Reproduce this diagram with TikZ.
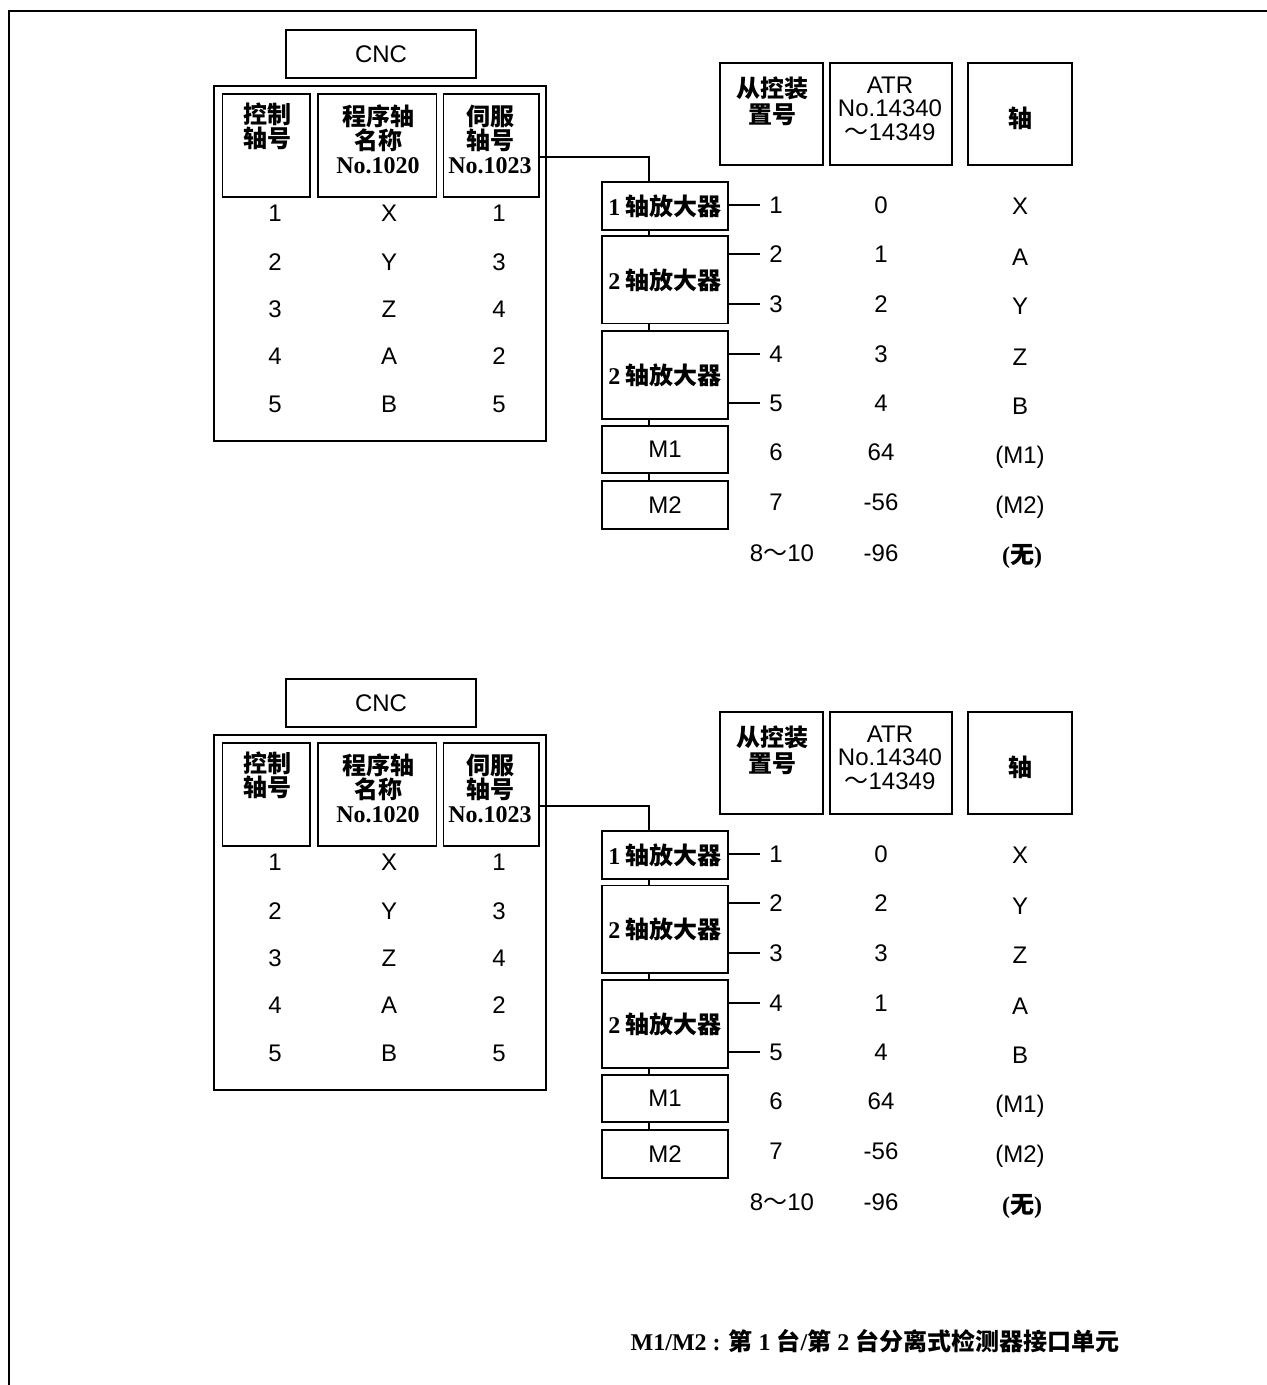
\documentclass[tikz,border=0pt]{standalone}
\usepackage{fontspec}
\setmainfont{Liberation Sans}
\newfontfamily\serifb{Liberation Serif}
\newfontfamily\cjk{Noto Sans CJK SC}

\begin{document}
\begin{tikzpicture}[x=0.5pt,y=-0.5pt,
  box/.style={draw,line width=0.75pt,inner sep=0pt},
  txt/.style={inner sep=0pt,align=center,font=\fontsize{12}{12}\selectfont},
  hd/.style={txt,font=\fontsize{12}{12}\selectfont\cjk\bfseries},
  amp/.style={box,minimum width=63pt,font=\fontsize{12}{12}\selectfont\cjk\bfseries},
  num/.style={txt,minimum width=16pt},
  wire/.style={line width=1pt}]
\useasboundingbox (0,0) rectangle (1267,1385);
\draw[line width=1.3pt] (1267,11) -- (9,11) -- (9,1385);

% upper case
\node[box,minimum width=95pt,minimum height=24pt,font=\fontsize{12}{12}\selectfont] (a-cnc) at (381,54) {CNC};
\node[box,minimum width=166pt,minimum height=177.5pt] (a-tab) at (380,263.5) {};
\node[box,minimum width=43.75pt,minimum height=51.5pt] (a-h1) at (266,145.5) {};
\node[box,minimum width=59.25pt,minimum height=51.5pt] (a-h2) at (377,145.5) {};
\node[box,minimum width=47.75pt,minimum height=51.5pt] (a-h3) at (491.3,145.5) {};
\node[hd] (a-t1) at (267,126.5) {控制\\轴号};
\node[hd] (a-t2) at (378,139) {程序轴\\名称\\{\serifb No.1020}};
\node[hd] (a-t3) at (490,139) {伺服\\轴号\\{\serifb No.1023}};
\node[txt] (a-k1) at (275,213) {1};
\node[txt] (a-k2) at (275,262) {2};
\node[txt] (a-k3) at (275,309) {3};
\node[txt] (a-k4) at (275,356) {4};
\node[txt] (a-k5) at (275,404) {5};
\node[txt] (a-p1) at (389,213) {X};
\node[txt] (a-p2) at (389,262) {Y};
\node[txt] (a-p3) at (389,309) {Z};
\node[txt] (a-p4) at (389,356) {A};
\node[txt] (a-p5) at (389,404) {B};
\node[txt] (a-s1) at (499,213) {1};
\node[txt] (a-s2) at (499,262) {3};
\node[txt] (a-s3) at (499,309) {4};
\node[txt] (a-s4) at (499,356) {2};
\node[txt] (a-s5) at (499,404) {5};
\coordinate (a-bus) at (649,157);
\node[amp,minimum height=24pt] (a-amp1) at (665,206) {{\serifb 1} 轴放大器};
\node[amp,minimum height=43.75pt] (a-amp2) at (665,280) {{\serifb 2} 轴放大器};
\node[amp,minimum height=44pt] (a-amp3) at (665,375) {{\serifb 2} 轴放大器};
\node[amp,minimum height=23.5pt,font=\fontsize{12}{12}\selectfont] (a-m1) at (665,449.5) {M1};
\node[amp,minimum height=24pt,font=\fontsize{12}{12}\selectfont] (a-m2) at (665,505) {M2};
\node[box,minimum width=51.5pt,minimum height=51pt] (a-hd) at (771.5,114) {};
\node[box,minimum width=61pt,minimum height=51pt] (a-ha) at (891,114) {};
\node[box,minimum width=52pt,minimum height=51pt] (a-hx) at (1020,114) {};
\node[hd,font=\fontsize{12}{13}\selectfont\cjk\bfseries] (a-td) at (772,101) {从控装\\置号};
\node[txt,font=\fontsize{12}{11.75}\selectfont] (a-ta) at (890,108.5) {ATR\\No.14340\\{\cjk ～}14349};
\node[hd] (a-tx) at (1020,118) {轴};
\node[num] (a-n1) at (776,205) {1};
\node[num] (a-n2) at (776,254) {2};
\node[num] (a-n3) at (776,304) {3};
\node[num] (a-n4) at (776,354) {4};
\node[num] (a-n5) at (776,403) {5};
\node[num] (a-n6) at (776,452) {6};
\node[num] (a-n7) at (776,502) {7};
\node[txt] (a-n8) at (782,553) {8{\cjk ～}10};
\node[txt] (a-v1) at (881,205) {0};
\node[txt] (a-v2) at (881,254) {1};
\node[txt] (a-v3) at (881,304) {2};
\node[txt] (a-v4) at (881,354) {3};
\node[txt] (a-v5) at (881,403) {4};
\node[txt] (a-v6) at (881,452) {64};
\node[txt] (a-v7) at (881,502) {-56};
\node[txt] (a-v8) at (881,553) {-96};
\node[txt] (a-x1) at (1020,206) {X};
\node[txt] (a-x2) at (1020,257) {A};
\node[txt] (a-x3) at (1020,306) {Y};
\node[txt] (a-x4) at (1020,357) {Z};
\node[txt] (a-x5) at (1020,406) {B};
\node[txt] (a-x6) at (1020,457) {(M1)};
\node[txt] (a-x7) at (1020,507) {(M2)};
\node[txt,font=\fontsize{12}{12}\selectfont\serifb\bfseries] (a-x8) at (1022,557) {({\cjk 无})};
\draw[wire] (a-h3.east |- a-bus) -- (a-bus) -- (a-bus |- a-amp1.north);
\draw[wire] (a-bus |- a-amp1.south) -- (a-bus |- a-amp2.north);
\draw[wire] (a-bus |- a-amp2.south) -- (a-bus |- a-amp3.north);
\draw[wire] (a-bus |- a-amp3.south) -- (a-bus |- a-m1.north);
\draw[wire] (a-bus |- a-m1.south) -- (a-bus |- a-m2.north);
\draw[wire] (a-amp1.east |- a-n1) -- (a-n1.west);
\draw[wire] (a-amp2.east |- a-n2) -- (a-n2.west);
\draw[wire] (a-amp2.east |- a-n3) -- (a-n3.west);
\draw[wire] (a-amp3.east |- a-n4) -- (a-n4.west);
\draw[wire] (a-amp3.east |- a-n5) -- (a-n5.west);

% lower case
\node[box,minimum width=95pt,minimum height=24pt,font=\fontsize{12}{12}\selectfont] (b-cnc) at (381,703) {CNC};
\node[box,minimum width=166pt,minimum height=177.5pt] (b-tab) at (380,912.5) {};
\node[box,minimum width=43.75pt,minimum height=51.5pt] (b-h1) at (266,794.5) {};
\node[box,minimum width=59.25pt,minimum height=51.5pt] (b-h2) at (377,794.5) {};
\node[box,minimum width=47.75pt,minimum height=51.5pt] (b-h3) at (491.3,794.5) {};
\node[hd] (b-t1) at (267,775.5) {控制\\轴号};
\node[hd] (b-t2) at (378,788) {程序轴\\名称\\{\serifb No.1020}};
\node[hd] (b-t3) at (490,788) {伺服\\轴号\\{\serifb No.1023}};
\node[txt] (b-k1) at (275,862) {1};
\node[txt] (b-k2) at (275,911) {2};
\node[txt] (b-k3) at (275,958) {3};
\node[txt] (b-k4) at (275,1005) {4};
\node[txt] (b-k5) at (275,1053) {5};
\node[txt] (b-p1) at (389,862) {X};
\node[txt] (b-p2) at (389,911) {Y};
\node[txt] (b-p3) at (389,958) {Z};
\node[txt] (b-p4) at (389,1005) {A};
\node[txt] (b-p5) at (389,1053) {B};
\node[txt] (b-s1) at (499,862) {1};
\node[txt] (b-s2) at (499,911) {3};
\node[txt] (b-s3) at (499,958) {4};
\node[txt] (b-s4) at (499,1005) {2};
\node[txt] (b-s5) at (499,1053) {5};
\coordinate (b-bus) at (649,806);
\node[amp,minimum height=24pt] (b-amp1) at (665,855) {{\serifb 1} 轴放大器};
\node[amp,minimum height=43.75pt] (b-amp2) at (665,929) {{\serifb 2} 轴放大器};
\node[amp,minimum height=44pt] (b-amp3) at (665,1024) {{\serifb 2} 轴放大器};
\node[amp,minimum height=23.5pt,font=\fontsize{12}{12}\selectfont] (b-m1) at (665,1098.5) {M1};
\node[amp,minimum height=24pt,font=\fontsize{12}{12}\selectfont] (b-m2) at (665,1154) {M2};
\node[box,minimum width=51.5pt,minimum height=51pt] (b-hd) at (771.5,763) {};
\node[box,minimum width=61pt,minimum height=51pt] (b-ha) at (891,763) {};
\node[box,minimum width=52pt,minimum height=51pt] (b-hx) at (1020,763) {};
\node[hd,font=\fontsize{12}{13}\selectfont\cjk\bfseries] (b-td) at (772,750) {从控装\\置号};
\node[txt,font=\fontsize{12}{11.75}\selectfont] (b-ta) at (890,757.5) {ATR\\No.14340\\{\cjk ～}14349};
\node[hd] (b-tx) at (1020,767) {轴};
\node[num] (b-n1) at (776,854) {1};
\node[num] (b-n2) at (776,903) {2};
\node[num] (b-n3) at (776,953) {3};
\node[num] (b-n4) at (776,1003) {4};
\node[num] (b-n5) at (776,1052) {5};
\node[num] (b-n6) at (776,1101) {6};
\node[num] (b-n7) at (776,1151) {7};
\node[txt] (b-n8) at (782,1202) {8{\cjk ～}10};
\node[txt] (b-v1) at (881,854) {0};
\node[txt] (b-v2) at (881,903) {2};
\node[txt] (b-v3) at (881,953) {3};
\node[txt] (b-v4) at (881,1003) {1};
\node[txt] (b-v5) at (881,1052) {4};
\node[txt] (b-v6) at (881,1101) {64};
\node[txt] (b-v7) at (881,1151) {-56};
\node[txt] (b-v8) at (881,1202) {-96};
\node[txt] (b-x1) at (1020,855) {X};
\node[txt] (b-x2) at (1020,906) {Y};
\node[txt] (b-x3) at (1020,955) {Z};
\node[txt] (b-x4) at (1020,1006) {A};
\node[txt] (b-x5) at (1020,1055) {B};
\node[txt] (b-x6) at (1020,1106) {(M1)};
\node[txt] (b-x7) at (1020,1156) {(M2)};
\node[txt,font=\fontsize{12}{12}\selectfont\serifb\bfseries] (b-x8) at (1022,1206) {({\cjk 无})};
\draw[wire] (b-h3.east |- b-bus) -- (b-bus) -- (b-bus |- b-amp1.north);
\draw[wire] (b-bus |- b-amp1.south) -- (b-bus |- b-amp2.north);
\draw[wire] (b-bus |- b-amp2.south) -- (b-bus |- b-amp3.north);
\draw[wire] (b-bus |- b-amp3.south) -- (b-bus |- b-m1.north);
\draw[wire] (b-bus |- b-m1.south) -- (b-bus |- b-m2.north);
\draw[wire] (b-amp1.east |- b-n1) -- (b-n1.west);
\draw[wire] (b-amp2.east |- b-n2) -- (b-n2.west);
\draw[wire] (b-amp2.east |- b-n3) -- (b-n3.west);
\draw[wire] (b-amp3.east |- b-n4) -- (b-n4.west);
\draw[wire] (b-amp3.east |- b-n5) -- (b-n5.west);

\node[txt,font=\fontsize{12}{12}\selectfont\serifb\bfseries] (note) at (875,1341) {M1/M2 : {\cjk 第} 1 {\cjk 台}/{\cjk 第} 2 {\cjk 台分离式检测器接口单元}};
\end{tikzpicture}
\end{document}
